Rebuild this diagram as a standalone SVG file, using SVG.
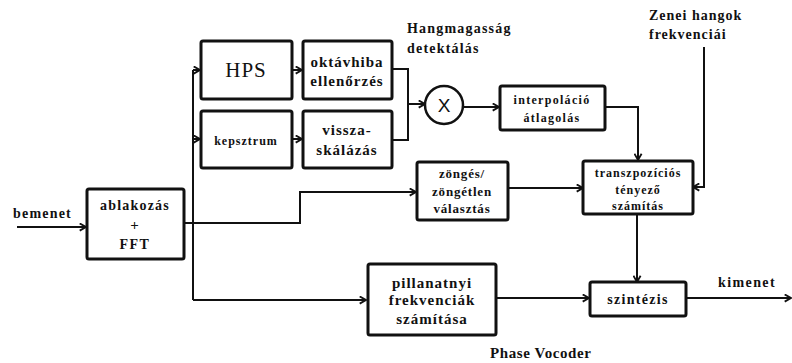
<svg xmlns="http://www.w3.org/2000/svg" width="792" height="363" viewBox="0 0 792 363">
<defs>
<style>
.box{fill:#fff;stroke:#111;stroke-width:3}
.ln{fill:none;stroke:#111;stroke-width:2}
text{font-family:'Liberation Serif','Times New Roman','DejaVu Serif',serif;font-weight:bold;fill:#111}
.t{text-anchor:middle;font-size:12px;letter-spacing:1px}
.lbl{font-size:14px;letter-spacing:1px}
</style>
<marker id="a" viewBox="0 0 10 10" refX="9" refY="5" markerWidth="9" markerHeight="9" markerUnits="userSpaceOnUse" orient="auto">
<polyline points="2,1 9,5 2,9" fill="none" stroke="#111" stroke-width="2"/>
</marker>
</defs>
<rect width="792" height="363" fill="#fff"/>
<g id="connectors">
<line class="ln" x1="17" y1="227" x2="86" y2="227" marker-end="url(#a)"/>
<polyline class="ln" points="184,223 300,223 300,192 416,192" marker-end="url(#a)"/>
<line class="ln" x1="193" y1="70" x2="193" y2="300"/>
<line class="ln" x1="193" y1="70" x2="200" y2="70" marker-end="url(#a)"/>
<line class="ln" x1="193" y1="139" x2="200" y2="139" marker-end="url(#a)"/>
<line class="ln" x1="193" y1="300" x2="366" y2="300" marker-end="url(#a)"/>
<line class="ln" x1="292" y1="70" x2="302" y2="70" marker-end="url(#a)"/>
<line class="ln" x1="292" y1="139" x2="302" y2="139" marker-end="url(#a)"/>
<polyline class="ln" points="392,69 408,69 408,140 392,140"/>
<line class="ln" x1="408" y1="104" x2="425" y2="104" marker-end="url(#a)"/>
<line class="ln" x1="463" y1="107" x2="499" y2="107" marker-end="url(#a)"/>
<polyline class="ln" points="605,107 638,107 638,160" marker-end="url(#a)"/>
<polyline class="ln" points="704,47 704,187 693,187" marker-end="url(#a)"/>
<line class="ln" x1="508" y1="188" x2="583" y2="188" marker-end="url(#a)"/>
<line class="ln" x1="637" y1="214" x2="637" y2="282" marker-end="url(#a)"/>
<line class="ln" x1="496" y1="298" x2="589" y2="298" marker-end="url(#a)"/>
<line class="ln" x1="686" y1="298" x2="791" y2="298" marker-end="url(#a)"/>
</g>
<g id="hps">
<rect class="box" x="201" y="41" width="91" height="58" rx="2"/>
<text class="t" x="246" y="77" style="font-size:21px;font-weight:normal">HPS</text>
</g>
<g id="oktavhiba">
<rect class="box" x="303" y="41" width="89" height="58" rx="2"/>
<text class="t" x="347" y="67" style="font-size:15px">oktávhiba</text>
<text class="t" x="347" y="86" style="font-size:15px">ellenőrzés</text>
</g>
<g id="kepsztrum">
<rect class="box" x="201" y="111" width="91" height="57" rx="2"/>
<text class="t" x="246" y="145">kepsztrum</text>
</g>
<g id="visszaskalazas">
<rect class="box" x="303" y="111" width="89" height="57" rx="2"/>
<text class="t" x="347" y="135" style="font-size:15px">vissza-</text>
<text class="t" x="347" y="155" style="font-size:15px">skálázás</text>
</g>
<g id="szorzo">
<circle cx="444" cy="105" r="19" fill="#fff" stroke="#111" stroke-width="2.5"/>
<text x="444" y="112" text-anchor="middle" style="font-family:'Liberation Sans',Arial,sans-serif;font-weight:normal;font-size:19px">X</text>
</g>
<g id="interpolacio">
<rect class="box" x="500" y="86" width="105" height="44" rx="2"/>
<text class="t" x="552" y="104" style="letter-spacing:1.3px">interpoláció</text>
<text class="t" x="552" y="122" style="letter-spacing:1.3px">átlagolás</text>
</g>
<g id="zonges">
<rect class="box" x="417" y="162" width="91" height="58" rx="2"/>
<text class="t" x="462" y="178" style="font-size:13px;letter-spacing:0.8px">zöngés/</text>
<text class="t" x="462" y="196" style="font-size:13px;letter-spacing:0.8px">zöngétlen</text>
<text class="t" x="462" y="213" style="font-size:13px;letter-spacing:0.8px">választás</text>
</g>
<g id="transzpozicio">
<rect class="box" x="583" y="161" width="110" height="53" rx="2"/>
<text class="t" x="638" y="177">transzpozíciós</text>
<text class="t" x="638" y="194">tényező</text>
<text class="t" x="638" y="210">számítás</text>
</g>
<g id="ablakozas">
<rect class="box" x="87" y="189" width="97" height="70" rx="2"/>
<text class="t" x="135" y="210" style="font-size:14px;letter-spacing:1.2px">ablakozás</text>
<text class="t" x="135" y="230" style="font-size:15px">+</text>
<text class="t" x="135" y="249" style="font-size:14px;letter-spacing:1.5px">FFT</text>
</g>
<g id="pillanatnyi">
<rect class="box" x="368" y="264" width="128" height="71" rx="2"/>
<text class="t" x="432" y="288" style="font-size:15px">pillanatnyi</text>
<text class="t" x="432" y="305" style="font-size:15px">frekvenciák</text>
<text class="t" x="432" y="324" style="font-size:15px">számítása</text>
</g>
<g id="szintezis">
<rect class="box" x="590" y="282" width="96" height="34" rx="2"/>
<text class="t" x="638" y="304" style="font-size:14px;letter-spacing:1.3px">szintézis</text>
</g>
<g id="labels">
<text class="lbl" x="13" y="218" style="letter-spacing:1.2px">bemenet</text>
<text class="lbl" x="718" y="287" style="letter-spacing:1.4px">kimenet</text>
<text class="lbl" x="407" y="33" style="letter-spacing:1.2px">Hangmagasság</text>
<text class="lbl" x="407" y="53" style="letter-spacing:1.2px">detektálás</text>
<text class="lbl" x="649" y="20">Zenei hangok</text>
<text class="lbl" x="649" y="39">frekvenciái</text>
<text class="lbl" x="490" y="358" style="font-size:15px;letter-spacing:0.6px">Phase Vocoder</text>
</g>
</svg>
